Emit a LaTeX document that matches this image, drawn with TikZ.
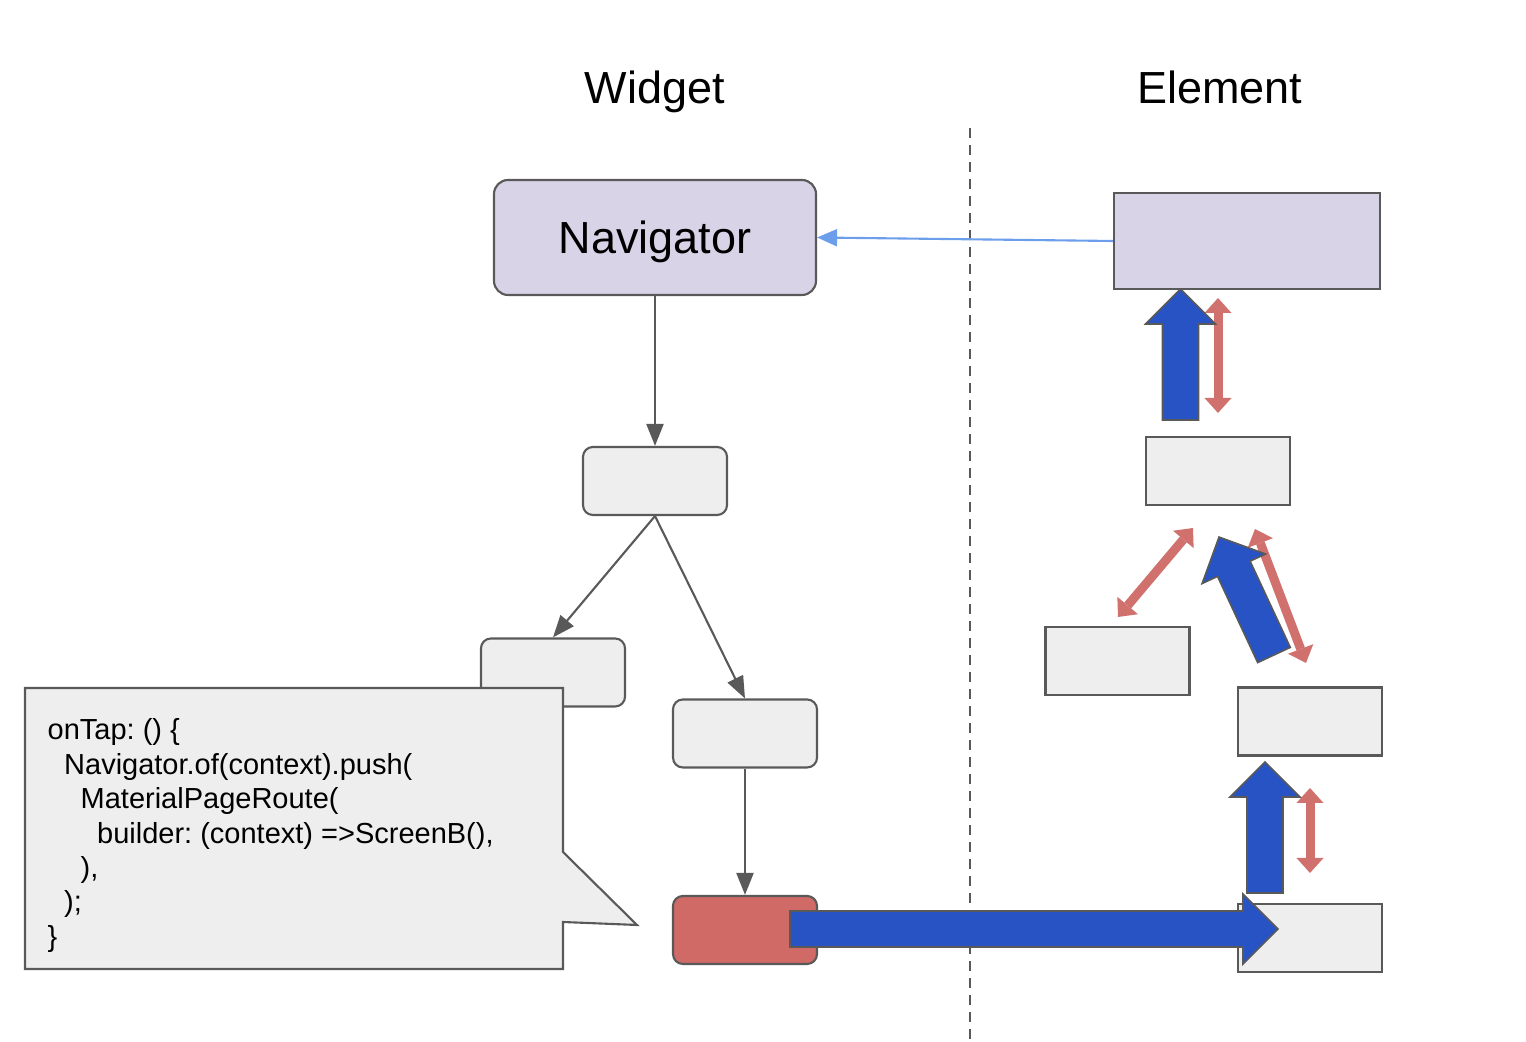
\documentclass[tikz,border=0pt]{standalone}
\usepackage{fontspec}
\setmainfont{Liberation Sans}
\usetikzlibrary{arrows.meta, calc}
\definecolor{linegray}{HTML}{595959}
\definecolor{lightpurple}{HTML}{D9D3E8}
\definecolor{lightgray}{HTML}{EEEEEE}
\definecolor{berry}{HTML}{CF6A66}
\definecolor{pushblue}{HTML}{2853C4}
\definecolor{linkblue}{HTML}{6D9EEB}
\tikzset{
    widget/.style={draw=linegray, line width=0.6pt, fill=lightgray, rounded corners=2.8pt, minimum width=1.44cm, minimum height=0.68cm},
    element/.style={draw=linegray, line width=0.6pt, fill=lightgray, minimum width=1.44cm, minimum height=0.68cm},
    title/.style={font=\fontsize{12.8pt}{15pt}\selectfont, anchor=base},
    link/.style={-{Triangle[length=0.22cm, width=0.17cm]}, line width=0.6pt, linegray},
    backlink/.style={-{Triangle[length=0.2cm, width=0.17cm]}, line width=0.6pt, linkblue},
    updown/.style={{Triangle[length=0.15cm, width=0.27cm, line width=0pt]}-{Triangle[length=0.15cm, width=0.27cm, line width=0pt]}, line width=0.09cm, berry!95!white},
    blockarrow/.style={draw=linegray, line width=0.45pt, fill=pushblue},
    divider/.style={linegray, line width=0.6pt, dash pattern=on 0.1cm off 0.07cm},
    codetext/.style={font=\fontsize{8.25pt}{9.8pt}\selectfont\frenchspacing, align=left, inner sep=0pt}
}
% thick blue arrow from #1 to #2
\newcommand{\pusharrow}[2]{%
    \path let \p1=($(#2)-(#1)$) in
        \pgfextra{\pgfmathsetmacro\pushang{atan2(\y1,\x1)}%
            \pgfmathsetmacro\pushlen{veclen(\x1,\y1)}%
            \global\let\pushang\pushang \global\let\pushlen\pushlen};
    \draw[blockarrow, shift={(#1)}, rotate=\pushang]
        (0cm,-0.18cm) -- ({\pushlen pt-0.35cm},-0.18cm) -- ({\pushlen pt-0.35cm},-0.35cm)
        -- ({\pushlen pt},0cm) -- ({\pushlen pt-0.35cm},0.35cm) -- ({\pushlen pt-0.35cm},0.18cm)
        -- (0cm,0.18cm) -- cycle;
}

\begin{document}
\begin{tikzpicture}
    \useasboundingbox (0,0) rectangle (15.26,10.42);
    % Titles and divider
    \node[title] (wtitle) at (6.55,9.38) {Widget};
    \node[title] (etitle) at (12.20,9.38) {Element};
    \draw[divider] (9.70,9.14) -- (9.70,0);
    % Widget tree
    \node[widget, fill=lightpurple, minimum width=3.22cm, minimum height=1.15cm, rounded corners=4pt, text depth=0pt, font=\fontsize{12.8pt}{15pt}\selectfont] (nav) at (6.55,8.045) {Navigator};
    \node[widget] (w1) at (6.55,5.61) {};
    \node[widget] (w2) at (5.53,3.695) {};
    \node[widget] (w3) at (7.45,3.085) {};
    \node[widget, fill=berry] (w4) at (7.45,1.12) {};
    \draw[link] (nav) -- (w1);
    \draw[link] (w1.south) -- (w2.north);
    \draw[link] (w1.south) -- (w3.north);
    \draw[link] (w3) -- (w4);
    % Element tree
    \node[element, fill=lightpurple, minimum width=2.66cm, minimum height=0.96cm] (e0) at (12.47,8.01) {};
    \node[element] (e1) at (12.18,5.71) {};
    \node[element] (e2) at (11.175,3.81) {};
    \node[element] (e3) at (13.10,3.205) {};
    \node[element] (e4) at (13.10,1.04) {};
    \draw[backlink] (e0.west) -- (nav.east);
    % Code callout
    \coordinate (tip) at (6.37,1.17);
    \draw[draw=linegray, line width=0.6pt, fill=lightgray] (0.25,3.54) -- (5.63,3.54) -- (5.63,1.90)
        -- (tip) -- (5.63,1.20) -- (5.63,0.73) -- (0.25,0.73) -- cycle;
    \node[codetext, anchor=north west] (code) at (0.47,3.24) {onTap: () \{\\
        \hspace*{0.165cm}Navigator.of(context).push(\\
        \hspace*{0.33cm}MaterialPageRoute(\\
        \hspace*{0.495cm}builder: (context) =>ScreenB(),\\
        \hspace*{0.33cm}),\\
        \hspace*{0.165cm});\\
        \}};
    % Parent lookups
    \draw[updown] (12.18,7.44) -- (12.18,6.29);
    \draw[updown] (11.93,5.14) -- (11.18,4.25);
    \draw[updown] (12.55,5.13) -- (13.06,3.79);
    \draw[updown] (13.10,2.54) -- (13.10,1.69);
    % Push path
    \coordinate (p0) at (7.90,1.13);
    \coordinate (p1) at (12.78,1.13);
    \coordinate (p2) at (12.65,1.49);
    \coordinate (p3) at (12.65,2.80);
    \coordinate (p4) at (12.74,3.87);
    \coordinate (p5) at (12.19,5.05);
    \coordinate (p6) at (11.805,6.22);
    \coordinate (p7) at (11.805,7.53);
    \pusharrow{p0}{p1}
    \pusharrow{p2}{p3}
    \pusharrow{p4}{p5}
    \pusharrow{p6}{p7}
\end{tikzpicture}
\end{document}
